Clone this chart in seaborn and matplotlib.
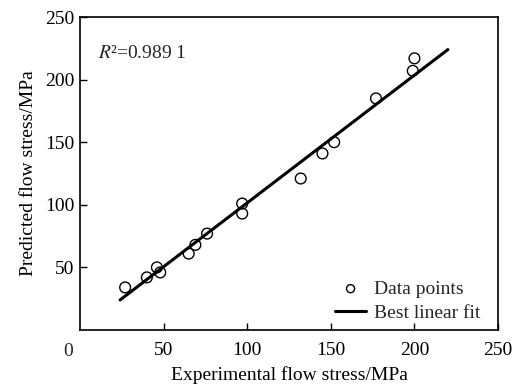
import matplotlib
matplotlib.use("Agg")
import matplotlib.pyplot as plt
import seaborn as sns
import pandas as pd

exp_stress = [27, 40, 46, 48, 65, 69, 76, 97, 97, 132, 145, 152, 177, 199, 200]
pred_stress = [34, 42, 50, 46, 61, 68, 77, 101, 93, 121, 141, 150, 185, 207, 217]
fit_x = [24, 220]
fit_y = [24, 224]
x_ticks = [50, 100, 150, 200, 250]
y_ticks = [50, 100, 150, 200, 250]

sns.set_theme(style="white")
plt.rcParams['font.family'] = ['Liberation Serif', 'DejaVu Serif']
plt.rcParams['mathtext.fontset'] = 'stix'

FS = 14

fig = plt.figure(figsize=(5.2, 3.85), dpi=100)
ax = fig.add_axes([0.1538, 0.1429, 0.804, 0.8129])

df = pd.DataFrame({"x": exp_stress, "y": pred_stress})
fit = pd.DataFrame({"x": fit_x, "y": fit_y})

sns.scatterplot(data=df, x="x", y="y", ax=ax, marker="o", s=60,
                facecolor="none", edgecolor="black", linewidth=1.0,
                label="Data points", zorder=3)
sns.lineplot(data=fit, x="x", y="y", ax=ax, color="black", linewidth=2.2,
             label="Best linear fit", zorder=2)

ax.set_xlim(0, 250)
ax.set_ylim(0, 250)
ax.set_xticks(x_ticks)
ax.set_yticks(y_ticks)
ax.tick_params(direction="in", length=5, width=1, color="black",
               labelsize=FS, labelcolor="black", bottom=True, left=True)
ax.tick_params(axis="x", pad=9)
ax.tick_params(axis="y", pad=4)
for s in ax.spines.values():
    s.set_color("black")
    s.set_linewidth(1.2)

ax.set_xlabel("Experimental flow stress/MPa", fontsize=FS, color="black", labelpad=5)
ax.set_ylabel("Predicted flow stress/MPa", fontsize=FS, color="black", labelpad=6)

fig.text(68 / 520, 1 - 351 / 385, "0", fontsize=FS, ha="center", va="center")
ax.text(0.042, 0.885, "$R$\u00b2=0.989 1", transform=ax.transAxes, fontsize=FS,
        ha="left", va="center")

leg = ax.legend(loc="lower right", bbox_to_anchor=(1 - 10 / 418, 0.0),
                frameon=False, fontsize=FS, markerscale=0.75,
                handlelength=1.6, handletextpad=0.4, borderaxespad=0.0,
                labelspacing=0.35)

fig.savefig("out.png", dpi=100)
